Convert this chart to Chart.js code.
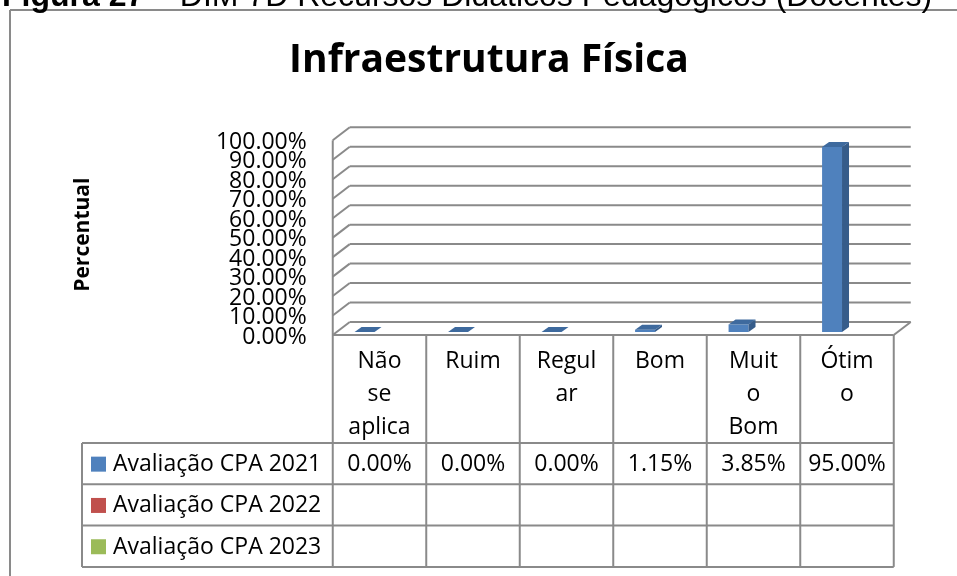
<!DOCTYPE html>
<html lang="pt">
<head>
<meta charset="utf-8">
<title>Infraestrutura Física</title>
<script src="https://cdn.jsdelivr.net/npm/chart.js@4.4.1/dist/chart.umd.min.js"></script>
<style>
  html, body { margin: 0; padding: 0; background: #fff; }
  #wrap { width: 957px; height: 576px; position: relative; }
</style>
</head>
<body>
<div id="wrap"><canvas id="chart"></canvas></div>
<script>
/* ---- Données ---- */
const categories   = [['Não', 'se', 'aplica'], ['Ruim'], ['Regul', 'ar'], ['Bom'], ['Muit', 'o', 'Bom'], ['Ótim', 'o']];
const seriesLabels = ['Avaliação CPA 2021', 'Avaliação CPA 2022', 'Avaliação CPA 2023'];
const cpa2021      = [0, 0, 0, 1.15, 3.85, 95.00];
const cpa2022      = [null, null, null, null, null, null];
const cpa2023      = [null, null, null, null, null, null];
const yTicks       = [0, 10, 20, 30, 40, 50, 60, 70, 80, 90, 100];

const chartTitle = 'Infraestrutura Física';
const yTitle     = 'Percentual';
const caption    = ['Figura 27 –', ' DIM 7D Recursos Didáticos Pedagógicos (Docentes)'];

/* ---- Style ---- */
const FONT   = 'Open Sans';
const GRID   = '#8a8a8a';
const FRONT  = { dx: -5, dy: 3 };    // arête avant du sol / mur
const BACK   = { dx: 12, dy: -10 };  // mur du fond
const DEPTH  = { dx: 7,  dy: -5 };   // profondeur des barres
const colors = [
  { face: '#4F81BD', top: '#3E6A9E', side: '#365C8A' },
  { face: '#C0504D', top: '#A0403D', side: '#8C3836' },
  { face: '#9BBB59', top: '#809C48', side: '#6F883E' },
];
const series = [cpa2021, cpa2022, cpa2023];

// Tableau de données sous le graphique
const TABLE_LEFT   = 82;
const HEADER_BOT   = 443;
const ROW_H        = 41.3;

function line(ctx, x1, y1, x2, y2) {
  ctx.beginPath();
  ctx.moveTo(x1, y1);
  ctx.lineTo(x2, y2);
  ctx.stroke();
}

function poly(ctx, pts) {
  ctx.beginPath();
  ctx.moveTo(pts[0][0], pts[0][1]);
  pts.slice(1).forEach(p => ctx.lineTo(p[0], p[1]));
  ctx.closePath();
  ctx.fill();
}

// Cadre, légende de figure, titre
const framePlugin = {
  id: 'frame',
  beforeDraw(chart) {
    const { ctx } = chart;
    ctx.save();
    ctx.fillStyle = '#fff';
    ctx.fillRect(0, 0, chart.width, chart.height);

    ctx.strokeStyle = GRID;
    ctx.lineWidth = 2;
    line(ctx, 10, 10, chart.width + 5, 10);
    line(ctx, 10, 10, 10, chart.height + 5);

    ctx.fillStyle = '#000';
    ctx.textBaseline = 'alphabetic';
    ctx.textAlign = 'left';
    ctx.font = 'bold 32px "Liberation Sans"';
    ctx.fillText(caption[0], 2, 6);
    const w = ctx.measureText(caption[0]).width;
    ctx.font = '32px "Liberation Sans"';
    ctx.fillText(caption[1], 2 + w, 6);

    ctx.textAlign = 'center';
    ctx.font = `bold 39px "${FONT}"`;
    ctx.fillText(chartTitle, 489, 72);
    ctx.restore();
  },
};

// Murs et sol en pseudo-3D
const wallsPlugin = {
  id: 'walls3d',
  beforeDatasetsDraw(chart) {
    const { ctx, chartArea: a, scales: { y } } = chart;
    ctx.save();
    ctx.strokeStyle = GRID;
    ctx.lineWidth = 2;
    yTicks.forEach(v => {
      const py = y.getPixelForValue(v);
      line(ctx, a.left + BACK.dx, py + BACK.dy, a.right + BACK.dx, py + BACK.dy);
      line(ctx, a.left + FRONT.dx, py + FRONT.dy, a.left + BACK.dx, py + BACK.dy);
    });
    const y0 = y.getPixelForValue(yTicks[0]);
    const y1 = y.getPixelForValue(yTicks[yTicks.length - 1]);
    line(ctx, a.left + FRONT.dx, y1 + FRONT.dy, a.left + FRONT.dx, y0 + FRONT.dy);
    line(ctx, a.left + FRONT.dx, y0 + FRONT.dy, a.right + FRONT.dx, y0 + FRONT.dy);
    line(ctx, a.right + FRONT.dx, y0 + FRONT.dy, a.right + BACK.dx, y0 + BACK.dy);
    ctx.restore();
  },
  // Faces supérieure et latérale des barres
  afterDatasetsDraw(chart) {
    const { ctx } = chart;
    ctx.save();
    chart.data.datasets.forEach((ds, i) => {
      const meta = chart.getDatasetMeta(i);
      meta.data.forEach((bar, j) => {
        if (ds.data[j] == null) return;
        const { x, y: top, base, width } = bar.getProps(['x', 'y', 'base', 'width'], true);
        const l = x - width / 2, r = x + width / 2;
        ctx.fillStyle = colors[i].top;
        poly(ctx, [[l, top], [r, top], [r + DEPTH.dx, top + DEPTH.dy], [l + DEPTH.dx, top + DEPTH.dy]]);
        ctx.fillStyle = colors[i].side;
        poly(ctx, [[r, top], [r + DEPTH.dx, top + DEPTH.dy], [r + DEPTH.dx, base + DEPTH.dy], [r, base]]);
      });
    });
    ctx.restore();
  },
};

// Tableau de données (légende + valeurs)
const tablePlugin = {
  id: 'dataTable',
  afterDraw(chart) {
    const { ctx, chartArea: a, scales: { x, y } } = chart;
    const n = categories.length;
    const colW = (a.right - a.left) / n;
    const left = a.left + FRONT.dx;
    const right = a.right + FRONT.dx;
    const top = y.getPixelForValue(0) + FRONT.dy;
    const bottom = HEADER_BOT + ROW_H * series.length;

    ctx.save();
    ctx.strokeStyle = GRID;
    ctx.lineWidth = 2;
    for (let i = 0; i <= n; i++) {
      const px = left + i * colW;
      line(ctx, px, top, px, bottom);
    }
    for (let r = 0; r <= series.length; r++) {
      const py = HEADER_BOT + r * ROW_H;
      line(ctx, TABLE_LEFT, py, right, py);
    }
    line(ctx, TABLE_LEFT, HEADER_BOT, TABLE_LEFT, bottom);

    ctx.font = `23px "${FONT}"`;
    ctx.textBaseline = 'middle';
    series.forEach((vals, r) => {
      const cy = HEADER_BOT + (r + 0.5) * ROW_H;
      ctx.fillStyle = colors[r].face;
      ctx.fillRect(91, cy - 7, 15, 15);
      ctx.fillStyle = '#000';
      ctx.textAlign = 'left';
      ctx.fillText(seriesLabels[r], 113, cy + 1);
      ctx.textAlign = 'center';
      vals.forEach((v, j) => {
        if (v == null) return;
        const cx = x.getPixelForTick(j) + FRONT.dx;
        ctx.fillText(v.toFixed(2) + '%', cx, cy + 1);
      });
    });
    ctx.restore();
  },
};

new Chart(document.getElementById('chart'), {
  type: 'bar',
  data: {
    labels: categories,
    datasets: seriesLabels.map((label, i) => ({
      label,
      data: series[i],
      backgroundColor: colors[i].face,
      borderWidth: 0,
      categoryPercentage: 0.64,
      barPercentage: 1,
    })),
  },
  options: {
    responsive: true,
    maintainAspectRatio: false,
    animation: false,
    layout: { padding: { top: 137.3, left: 24, right: 58.25, bottom: 0 } },
    plugins: {
      legend:  { display: false },
      title:   { display: false },
      tooltip: { enabled: false },
    },
    scales: {
      x: {
        grid:   { display: false, drawTicks: false },
        border: { display: false },
        ticks: {
          color: '#000',
          font: { family: FONT, size: 23, lineHeight: 1.43 },
          padding: 13,
          labelOffset: FRONT.dx,
          maxRotation: 0,
          minRotation: 0,
          autoSkip: false,
        },
        afterFit: s => { s.height = 244; },
      },
      y: {
        min: 0,
        max: 100,
        grid:   { display: false, drawTicks: false },
        border: { display: false },
        afterBuildTicks: s => { s.ticks = yTicks.map(v => ({ value: v })); },
        ticks: {
          color: '#000',
          font: { family: FONT, size: 23, lineHeight: 1 },
          padding: 31,
          labelOffset: 5,
          autoSkip: false,
          callback: v => Number(v).toFixed(2) + '%',
        },
        title: {
          display: true,
          text: yTitle,
          color: '#000',
          font: { family: FONT, size: 21, weight: 'bold' },
          padding: { top: 46, bottom: 0 },
        },
        afterFit: s => { s.width = 313.75; },
      },
    },
  },
  plugins: [framePlugin, wallsPlugin, tablePlugin],
});
</script>
</body>
</html>
